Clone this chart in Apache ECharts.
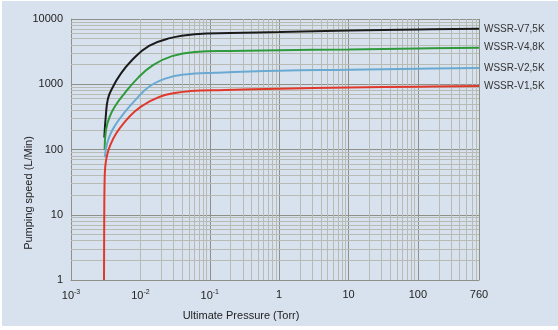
<!DOCTYPE html>
<html><head><meta charset="utf-8">
<script src="https://cdn.jsdelivr.net/npm/echarts@6/dist/echarts.min.js"></script>
<style>
html,body{margin:0;padding:0;background:#fff;}
#c{position:absolute;left:2px;top:1px;width:556px;height:325px;}
</style></head>
<body><div id="c"></div>
<script>
// Pressure (Torr) and pumping speed (L/min) per model
const seriesNames = ['WSSR-V7,5K', 'WSSR-V4,8K', 'WSSR-V2,5K', 'WSSR-V1,5K'];
const v75P = [0.00302, 0.003174, 0.003415, 0.00403, 0.005085, 0.007324, 0.01331, 0.02673, 0.06126, 0.1957, 1, 10, 100, 760];
const v75S = [152, 325, 605, 917, 1390, 2256, 3859, 5091, 5848, 6116, 6310, 6668, 6904, 7073];
const v48P = [0.00305, 0.003195, 0.003588, 0.004307, 0.005805, 0.009241, 0.0152, 0.02855, 0.06126, 0.1957, 1, 10, 100, 760];
const v48S = [100, 200, 313, 459, 707, 1252, 1965, 2702, 3124, 3246, 3325, 3418, 3539, 3626];
const v25P = [0.003071, 0.003281, 0.003709, 0.004452, 0.005805, 0.008366, 0.01331, 0.02341, 0.04396, 0.119, 1, 10, 100, 760];
const v25S = [76, 119, 174, 246, 360, 565, 917, 1231, 1414, 1499, 1613, 1670, 1729, 1771];
const v15P = [0.00299, 0.00301, 0.00304, 0.003112, 0.003303, 0.003709, 0.004452, 0.005805, 0.008366, 0.01288, 0.02264, 0.05191, 0.1658, 1, 10, 100, 760];
const v15S = [1, 6.7, 26.8, 53.6, 81.2, 119, 174, 255, 386, 527, 683, 785, 818, 855, 895, 917, 940];
const seriesColors = ['#1b1b1b', '#2f9a3c', '#6aaad2', '#e0392b'];
// minor log grid multipliers and decades
const minorMult = [2, 3, 4, 5, 6, 7, 8, 9];
const xDecades = [0.001, 0.01, 0.1, 1, 10, 100];
const yDecades = [1, 10, 100, 1000];
const xMin = 0.001, xMax = 760, yMin = 1, yMax = 10000;

const font = 'Liberation Sans, Arial, sans-serif';
const majorColor = '#8f9188';
const minorColor = '#b8bbb3';

const minorLines = [];
xDecades.forEach(d => minorMult.forEach(m => { const v = d * m; if (v < xMax) minorLines.push({ xAxis: v }); }));
yDecades.forEach(d => minorMult.forEach(m => { minorLines.push({ yAxis: d * m }); }));

const pairs = [[v75P, v75S], [v48P, v48S], [v25P, v25S], [v15P, v15S]];
const series = pairs.map((p, i) => ({
  name: seriesNames[i],
  type: 'line',
  data: p[0].map((x, j) => [x, p[1][j]]),
  smooth: 0.45,
  showSymbol: false,
  z: 5,
  lineStyle: { color: seriesColors[i], width: 2 },
  itemStyle: { color: seriesColors[i] },
  endLabel: { show: true, formatter: '{a}', distance: 5, fontSize: 10, color: '#333', fontFamily: font }
}));
series.unshift({
  type: 'line', data: [], z: 1, silent: true,
  markLine: { silent: true, symbol: ['none', 'none'], animation: false, label: { show: false },
    lineStyle: { type: 'solid', width: 1, color: minorColor }, data: minorLines }
});

const chart = echarts.init(document.getElementById('c'));
chart.setOption({
  animation: false,
  backgroundColor: '#d8e2ee',
  grid: { left: 69, top: 18, right: 79, bottom: 41 },
  xAxis: {
    type: 'log', min: xMin, max: xMax, logBase: 10,
    name: 'Ultimate Pressure (Torr)', nameLocation: 'middle', nameGap: 30, nameMoveOverlap: false,
    nameTextStyle: { fontSize: 11, color: '#222', fontFamily: font, padding: [0, 68, 0, 0] },
    axisLine: { show: true, lineStyle: { color: majorColor } },
    axisTick: { show: false },
    splitLine: { show: true, lineStyle: { color: majorColor, width: 1 } },
    axisLabel: {
      margin: 9, color: '#222', fontSize: 11, fontFamily: font,
      formatter: v => v < 1 ? '10{s|' + Math.round(Math.log10(v)) + '}' : String(Math.round(v)),
      rich: { s: { fontSize: 7, padding: [0, 0, 7, 0], color: '#222', fontFamily: font } }
    }
  },
  yAxis: {
    type: 'log', min: yMin, max: yMax, logBase: 10,
    name: 'Pumping speed (L/Min)', nameLocation: 'middle', nameGap: 37, nameMoveOverlap: false,
    nameTextStyle: { fontSize: 11, color: '#222', fontFamily: font, padding: [0, 87, 0, 0] },
    axisLine: { show: true, lineStyle: { color: majorColor } },
    axisTick: { show: false },
    splitLine: { show: true, lineStyle: { color: majorColor, width: 1 } },
    axisLabel: { margin: 8, color: '#222', fontSize: 11, fontFamily: font, formatter: v => String(Math.round(v)) }
  },
  series: series
});
</script></body></html>
